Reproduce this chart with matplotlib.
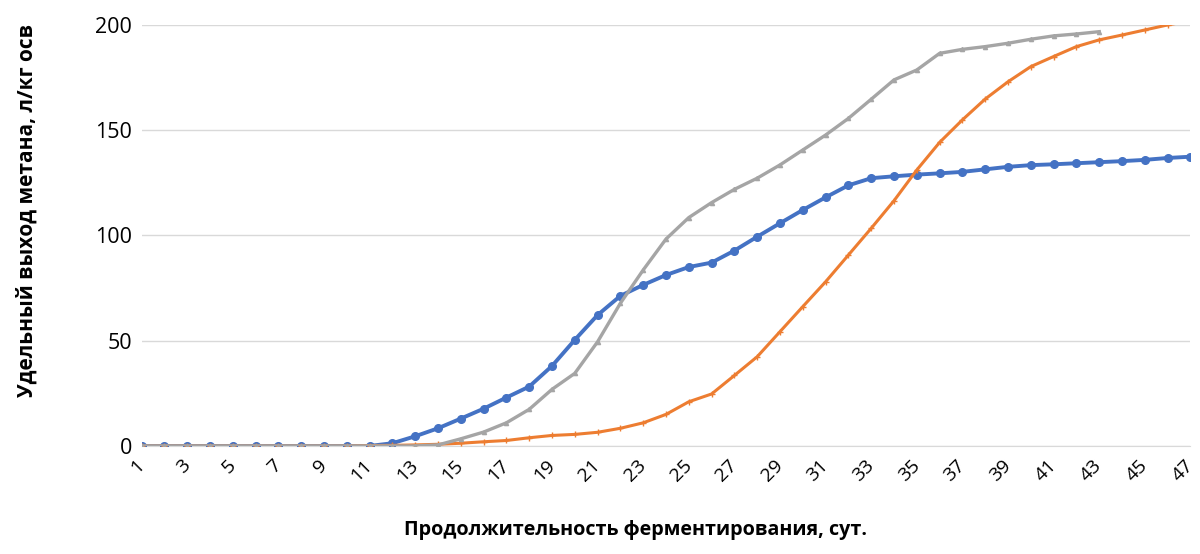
import matplotlib
matplotlib.use("Agg")
import matplotlib.pyplot as plt

plt.rcParams['font.family'] = ['Open Sans', 'DejaVu Sans']

days = list(range(1, 48))
tick_days = list(range(1, 48, 2))

blue_vals = [0, 0, 0, 0, 0, 0, 0, 0, 0, 0, 0, 1.3, 4.6, 8.4, 13.0, 17.7, 23.0,
             28.2, 38.0, 50.4, 62.2, 71.3, 76.5, 81.2, 85.0, 87.1, 92.8, 99.4,
             105.8, 112.1, 118.1, 123.8, 127.2, 128.1, 128.9, 129.5, 130.2,
             131.4, 132.6, 133.4, 133.8, 134.3, 134.8, 135.3, 135.9, 136.8, 137.4]

orange_vals = [0, 0, 0, 0, 0, 0, 0, 0, 0, 0, 0.2, 0.3, 0.5, 0.8, 1.3, 2.0, 2.6,
               3.9, 5.0, 5.5, 6.5, 8.4, 11.0, 15.0, 21.0, 24.7, 33.5, 42.4,
               54.3, 66.2, 78.0, 90.7, 103.4, 116.5, 131.1, 144.2, 154.9,
               164.8, 173.0, 180.2, 185.0, 189.7, 192.9, 195.2, 197.6, 200.0, 202.0]

gray_days = list(range(1, 44))
gray_vals = [0, 0, 0, 0, 0, 0, 0, 0, 0, 0, 0, 0, 0, 0.5, 3.4, 6.6, 11.0,
             17.4, 26.9, 34.5, 49.5, 67.8, 83.6, 98.3, 108.5, 115.6, 121.9,
             127.2, 133.5, 140.6, 147.7, 155.6, 164.7, 173.9, 178.6, 186.5,
             188.4, 189.7, 191.3, 193.2, 194.8, 195.7, 196.8]

y_ticks = [0, 50, 100, 150, 200]

fig = plt.figure(figsize=(12, 5.54), dpi=100)
ax = fig.add_axes([0.118, 0.195, 0.874, 0.760])

ax.plot(days, blue_vals, color='#4472C4', lw=2.8, marker='o', ms=5.5, zorder=3)
ax.plot(days, orange_vals, color='#ED7D31', lw=2.2, marker='+', ms=4, mew=1, zorder=4)
ax.plot(gray_days, gray_vals, color='#A5A5A5', lw=2.4, marker='^', ms=3, zorder=5)

ax.set_xlim(1, 47)
ax.set_ylim(0, 200)
ax.set_yticks(y_ticks)
ax.set_xticks(tick_days)
ax.set_xticklabels([str(d) for d in tick_days], rotation=45, ha='right',
                   va='center', rotation_mode='anchor', fontsize=14)
ax.tick_params(axis='y', labelsize=15.5, length=0, pad=7)
ax.tick_params(axis='x', length=0, pad=12)
ax.grid(axis='y', color='#D9D9D9', lw=1)
ax.set_axisbelow(True)
for side in ['top', 'right', 'left']:
    ax.spines[side].set_visible(False)
ax.spines['bottom'].set_color('#D9D9D9')

fig.text(0.022, 0.62, 'Удельный выход метана, л/кг осв', rotation=90,
         ha='center', va='center', fontsize=15, fontweight='bold')
fig.text(0.53, 0.043, 'Продолжительность ферментирования, сут.',
         ha='center', va='center', fontsize=14.2, fontweight='bold')

fig.savefig('out.png', dpi=100)
